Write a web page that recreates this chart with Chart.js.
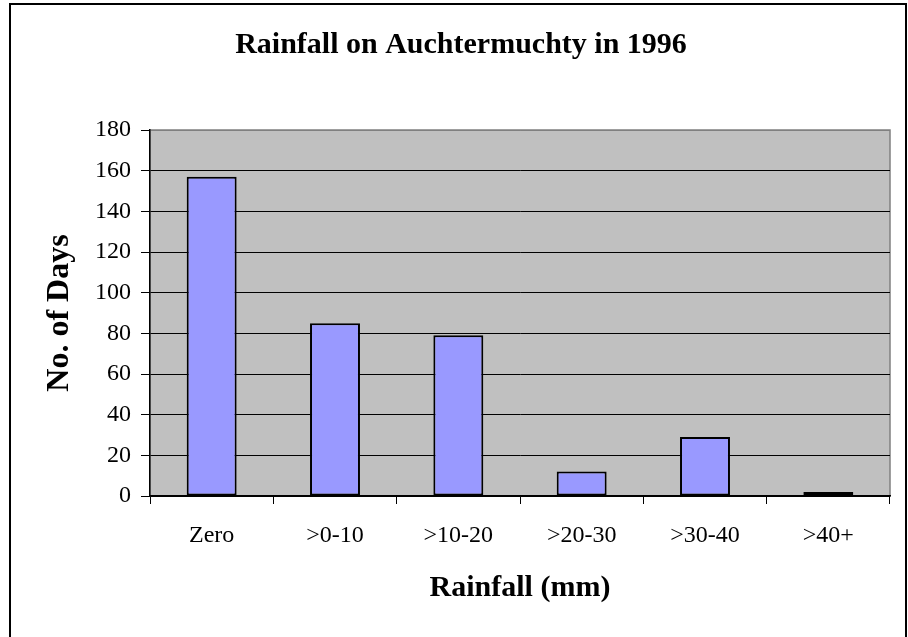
<!DOCTYPE html>
<html lang="en">

<head>
    <meta charset="UTF-8">
    <script src="https://cdn.jsdelivr.net/npm/chart.js@4.4.0/dist/chart.umd.min.js"></script>
    <title>Rainfall on Auchtermuchty in 1996</title>
    <style>
        body { margin: 0; background: #fff; }
    </style>
</head>

<body>

    <canvas id="myChart" width="908" height="637"></canvas>

    <script>
        const categories = ['Zero', '>0-10', '>10-20', '>20-30', '>30-40', '>40+'];
        const days = [157, 85, 79, 12, 29, 2];
        const yMin = 0;
        const yMax = 180;
        const yStep = 20;

        const serif = '"Liberation Serif", "Times New Roman", serif';

        // grey plot area, grey top/right edge, outer chart frame
        const excelFrame = {
            id: 'excelFrame',
            beforeDraw(chart) {
                const { ctx, chartArea: a } = chart;
                ctx.save();
                ctx.fillStyle = '#fff';
                ctx.fillRect(0, 0, chart.width, chart.height);
                ctx.fillStyle = '#c0c0c0';
                ctx.fillRect(a.left, a.top, a.right - a.left, a.bottom - a.top);
                ctx.strokeStyle = '#808080';
                ctx.lineWidth = 1.5;
                ctx.strokeRect(a.left, a.top, a.right - a.left, a.bottom - a.top);
                ctx.restore();
            },
            afterDraw(chart) {
                const ctx = chart.ctx;
                ctx.save();
                ctx.strokeStyle = '#000';
                ctx.lineWidth = 2;
                ctx.beginPath();
                ctx.moveTo(10, chart.height);
                ctx.lineTo(10, 4);
                ctx.lineTo(906, 4);
                ctx.lineTo(906, chart.height);
                ctx.stroke();
                ctx.restore();
            }
        };

        const chart = document.getElementById('myChart').getContext('2d');

        new Chart(chart, {
            type: 'bar',
            data: {
                labels: categories,
                datasets: [{
                    data: days,
                    backgroundColor: '#9999ff',
                    borderColor: '#000',
                    borderWidth: 2,
                    borderSkipped: false,
                    barPercentage: 0.405,
                    categoryPercentage: 1
                }]
            },
            options: {
                responsive: false,
                animation: false,
                layout: {
                    padding: { left: 32, right: 18, top: 0, bottom: 0 }
                },
                plugins: {
                    legend: { display: false },
                    tooltip: { enabled: false },
                    title: {
                        display: true,
                        text: 'Rainfall on Auchtermuchty in 1996',
                        color: '#000',
                        font: { family: serif, size: 30, weight: 'bold', lineHeight: 1.2 },
                        padding: { top: 27, bottom: 67 }
                    }
                },
                scales: {
                    x: {
                        afterFit: s => { s.height = 141; },
                        grid: {
                            offset: true,
                            drawOnChartArea: false,
                            tickLength: 8,
                            tickColor: '#000'
                        },
                        border: { color: '#000', width: 1.5 },
                        ticks: {
                            color: '#000',
                            padding: 17,
                            font: { family: serif, size: 24, lineHeight: 1.2 }
                        },
                        title: {
                            display: true,
                            text: 'Rainfall (mm)',
                            color: '#000',
                            font: { family: serif, size: 30, weight: 'bold', lineHeight: 1.2 },
                            padding: { top: 0, bottom: 31 }
                        }
                    },
                    y: {
                        min: yMin,
                        max: yMax,
                        afterFit: s => { s.width = 118; },
                        grid: {
                            color: c => (c.tick && c.tick.value === yMax) ? '#808080' : '#000',
                            tickColor: '#000',
                            tickLength: 9,
                            lineWidth: 1
                        },
                        border: { color: '#000', width: 1.5 },
                        ticks: {
                            stepSize: yStep,
                            color: '#000',
                            padding: 10,
                            font: { family: serif, size: 24 }
                        },
                        title: {
                            display: true,
                            text: 'No. of Days',
                            color: '#000',
                            font: { family: serif, size: 32, weight: 'bold', lineHeight: 1.2 },
                            padding: { top: 9, bottom: 0 }
                        }
                    }
                }
            },
            plugins: [excelFrame]
        });
    </script>

</body>

</html>
